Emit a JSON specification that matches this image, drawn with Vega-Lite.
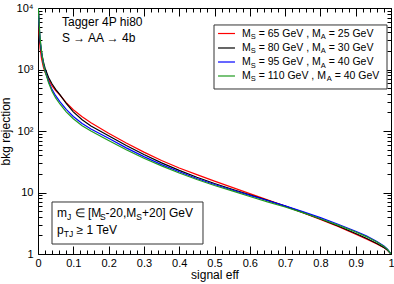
{
  "$schema": "https://vega.github.io/schema/vega-lite/v6.json",
  "width": 353,
  "height": 246,
  "autosize": {"type": "none"},
  "padding": {"left": 38, "top": 8, "right": 3, "bottom": 30},
  "background": "white",
  "config": {
    "view": {"stroke": "black", "strokeWidth": 1},
    "axis": {"grid": false, "domain": false, "labelFont": "Liberation Sans", "titleFont": "Liberation Sans", "labelFontSize": 11, "titleFontSize": 12, "titleFontWeight": "normal", "labelColor": "black", "titleColor": "black", "tickColor": "black", "tickWidth": 1},
    "text": {"font": "Liberation Sans", "color": "black"}
  },
  "datasets": {
    "curves": [
      {"m":"a","e":0.001,"r":9500},{"m":"a","e":0.003,"r":4000},{"m":"a","e":0.006,"r":2200},{"m":"a","e":0.01,"r":1500},{"m":"a","e":0.015,"r":1100},{"m":"a","e":0.02,"r":900},{"m":"a","e":0.03,"r":680},{"m":"a","e":0.04,"r":540},{"m":"a","e":0.05,"r":455},{"m":"a","e":0.062,"r":385},{"m":"a","e":0.08,"r":290},{"m":"a","e":0.1,"r":222},{"m":"a","e":0.125,"r":170},{"m":"a","e":0.15,"r":136},{"m":"a","e":0.2,"r":92},{"m":"a","e":0.25,"r":63.7},{"m":"a","e":0.3,"r":45.4},{"m":"a","e":0.35,"r":33.2},{"m":"a","e":0.4,"r":25},{"m":"a","e":0.45,"r":19.5},{"m":"a","e":0.5,"r":15.3},{"m":"a","e":0.55,"r":12.1},{"m":"a","e":0.6,"r":9.6},{"m":"a","e":0.65,"r":7.6},{"m":"a","e":0.7,"r":6.0},{"m":"a","e":0.75,"r":4.7},{"m":"a","e":0.8,"r":3.65},{"m":"a","e":0.85,"r":2.8},{"m":"a","e":0.9,"r":2.1},{"m":"a","e":0.93,"r":1.75},{"m":"a","e":0.96,"r":1.45},{"m":"a","e":0.98,"r":1.27},{"m":"a","e":0.99,"r":1.15},{"m":"a","e":1.0,"r":1.0},
      {"m":"b","e":0.001,"r":9800},{"m":"b","e":0.003,"r":5000},{"m":"b","e":0.006,"r":2800},{"m":"b","e":0.01,"r":1900},{"m":"b","e":0.015,"r":1350},{"m":"b","e":0.02,"r":1050},{"m":"b","e":0.03,"r":740},{"m":"b","e":0.04,"r":580},{"m":"b","e":0.05,"r":475},{"m":"b","e":0.062,"r":390},{"m":"b","e":0.08,"r":280},{"m":"b","e":0.1,"r":205},{"m":"b","e":0.125,"r":152},{"m":"b","e":0.15,"r":121},{"m":"b","e":0.2,"r":84},{"m":"b","e":0.25,"r":58},{"m":"b","e":0.3,"r":41.4},{"m":"b","e":0.35,"r":30.3},{"m":"b","e":0.4,"r":22.9},{"m":"b","e":0.45,"r":17.7},{"m":"b","e":0.5,"r":14.0},{"m":"b","e":0.55,"r":11.3},{"m":"b","e":0.6,"r":9.2},{"m":"b","e":0.65,"r":7.45},{"m":"b","e":0.7,"r":6.0},{"m":"b","e":0.75,"r":4.75},{"m":"b","e":0.8,"r":3.7},{"m":"b","e":0.85,"r":2.85},{"m":"b","e":0.9,"r":2.15},{"m":"b","e":0.93,"r":1.8},{"m":"b","e":0.96,"r":1.48},{"m":"b","e":0.98,"r":1.28},{"m":"b","e":0.99,"r":1.16},{"m":"b","e":1.0,"r":1.0},
      {"m":"c","e":0.001,"r":9900},{"m":"c","e":0.003,"r":5500},{"m":"c","e":0.006,"r":3000},{"m":"c","e":0.01,"r":1900},{"m":"c","e":0.015,"r":1250},{"m":"c","e":0.02,"r":950},{"m":"c","e":0.03,"r":640},{"m":"c","e":0.04,"r":470},{"m":"c","e":0.05,"r":375},{"m":"c","e":0.062,"r":300},{"m":"c","e":0.08,"r":225},{"m":"c","e":0.1,"r":172},{"m":"c","e":0.125,"r":132},{"m":"c","e":0.15,"r":108},{"m":"c","e":0.2,"r":76},{"m":"c","e":0.25,"r":53.2},{"m":"c","e":0.3,"r":38.3},{"m":"c","e":0.35,"r":28.4},{"m":"c","e":0.4,"r":21.7},{"m":"c","e":0.45,"r":16.9},{"m":"c","e":0.5,"r":13.5},{"m":"c","e":0.55,"r":11.0},{"m":"c","e":0.6,"r":9.0},{"m":"c","e":0.65,"r":7.4},{"m":"c","e":0.7,"r":6.05},{"m":"c","e":0.75,"r":4.9},{"m":"c","e":0.8,"r":3.9},{"m":"c","e":0.85,"r":3.05},{"m":"c","e":0.9,"r":2.35},{"m":"c","e":0.93,"r":1.97},{"m":"c","e":0.96,"r":1.6},{"m":"c","e":0.98,"r":1.35},{"m":"c","e":0.99,"r":1.2},{"m":"c","e":1.0,"r":1.0},
      {"m":"d","e":0.001,"r":9900},{"m":"d","e":0.003,"r":6000},{"m":"d","e":0.006,"r":3200},{"m":"d","e":0.01,"r":2000},{"m":"d","e":0.015,"r":1250},{"m":"d","e":0.02,"r":930},{"m":"d","e":0.03,"r":610},{"m":"d","e":0.04,"r":440},{"m":"d","e":0.05,"r":345},{"m":"d","e":0.062,"r":275},{"m":"d","e":0.08,"r":205},{"m":"d","e":0.1,"r":158},{"m":"d","e":0.125,"r":122},{"m":"d","e":0.15,"r":100},{"m":"d","e":0.2,"r":70},{"m":"d","e":0.25,"r":49.5},{"m":"d","e":0.3,"r":36.1},{"m":"d","e":0.35,"r":27.1},{"m":"d","e":0.4,"r":20.8},{"m":"d","e":0.45,"r":16.3},{"m":"d","e":0.5,"r":13.0},{"m":"d","e":0.55,"r":10.6},{"m":"d","e":0.6,"r":8.6},{"m":"d","e":0.65,"r":7.05},{"m":"d","e":0.7,"r":5.8},{"m":"d","e":0.75,"r":4.7},{"m":"d","e":0.8,"r":3.75},{"m":"d","e":0.85,"r":2.95},{"m":"d","e":0.9,"r":2.28},{"m":"d","e":0.93,"r":1.92},{"m":"d","e":0.96,"r":1.57},{"m":"d","e":0.98,"r":1.33},{"m":"d","e":0.99,"r":1.19},{"m":"d","e":1.0,"r":1.0}
    ],
    "boxes": [
      {"x":0.4986,"x2":0.9887,"y":5295,"y2":482},
      {"x":0.0397,"x2":0.4674,"y":7.01,"y2":1.454}
    ],
    "legend": [
      {"m":"a","x":0.51,"x2":0.558,"y":3848},
      {"m":"b","x":0.51,"x2":0.558,"y":2237},
      {"m":"c","x":0.51,"x2":0.558,"y":1324},
      {"m":"d","x":0.51,"x2":0.558,"y":784}
    ],
    "texts": [
      {"t":"Tagger 4P hi80","x":0.068,"y":5920,"k":"A"},
      {"t":"S → AA → 4b","x":0.068,"y":3251,"k":"A"},
      {"t":"m","x":0.0538,"y":4.64,"k":"A"},
      {"t":"J","x":0.0822,"y":4.64,"k":"B"},
      {"t":"∈ [M","x":0.1037,"y":4.64,"k":"A"},
      {"t":"S","x":0.1754,"y":4.64,"k":"B"},
      {"t":"-20,M","x":0.1915,"y":4.64,"k":"A"},
      {"t":"S","x":0.2785,"y":4.64,"k":"B"},
      {"t":"+20] GeV","x":0.2946,"y":4.64,"k":"A"},
      {"t":"p","x":0.0538,"y":2.455,"k":"A"},
      {"t":"TJ","x":0.0728,"y":2.455,"k":"B"},
      {"t":"≥ 1 TeV","x":0.1091,"y":2.455,"k":"A"},
      {"t":"M","x":0.5779,"y":3848,"k":"L"},
      {"t":"S","x":0.6027,"y":3848,"k":"M"},
      {"t":"= 65 GeV , M","x":0.6252,"y":3848,"k":"L"},
      {"t":"A","x":0.8011,"y":3848,"k":"M"},
      {"t":"= 25 GeV","x":0.8238,"y":3848,"k":"L"},
      {"t":"M","x":0.5779,"y":2237,"k":"L"},
      {"t":"S","x":0.6027,"y":2237,"k":"M"},
      {"t":"= 80 GeV , M","x":0.6252,"y":2237,"k":"L"},
      {"t":"A","x":0.8011,"y":2237,"k":"M"},
      {"t":"= 30 GeV","x":0.8238,"y":2237,"k":"L"},
      {"t":"M","x":0.5779,"y":1324,"k":"L"},
      {"t":"S","x":0.6027,"y":1324,"k":"M"},
      {"t":"= 95 GeV , M","x":0.6252,"y":1324,"k":"L"},
      {"t":"A","x":0.8011,"y":1324,"k":"M"},
      {"t":"= 40 GeV","x":0.8238,"y":1324,"k":"L"},
      {"t":"M","x":0.5779,"y":784,"k":"L"},
      {"t":"S","x":0.6027,"y":784,"k":"M"},
      {"t":"= 110 GeV , M","x":0.6252,"y":784,"k":"L"},
      {"t":"A","x":0.8178,"y":784,"k":"M"},
      {"t":"= 40 GeV","x":0.8405,"y":784,"k":"L"}
    ]
  },
  "resolve": {"axis": {"x": "independent", "y": "independent"}},
  "layer": [
    {
      "data": {"name": "curves"},
      "mark": {"type": "line", "strokeWidth": 1.2, "clip": true},
      "encoding": {
        "x": {"field": "e", "type": "quantitative", "scale": {"domain": [0, 1], "nice": false},
              "axis": {"orient": "bottom", "values": [0,0.1,0.2,0.3,0.4,0.5,0.6,0.7,0.8,0.9,1], "tickSize": -8, "labelPadding": 11, "labelFlush": false, "title": "signal eff", "titlePadding": 1, "labelExpr": "datum.value == 0 ? '0' : datum.value == 1 ? '1' : format(datum.value, '.1f')"}},
        "y": {"field": "r", "type": "quantitative", "scale": {"type": "log", "domain": [1, 10000], "nice": false},
              "axis": {"orient": "left", "values": [1,10,100,1000,10000], "tickSize": -8, "labelPadding": 13, "labelFlush": false, "title": "bkg rejection", "titlePadding": 4, "labelExpr": "datum.value == 1 ? '1' : datum.value == 10 ? '10' : datum.value == 100 ? '10²' : datum.value == 1000 ? '10³' : '10⁴'"}},
        "color": {"field": "m", "type": "nominal", "scale": {"domain": ["a","b","c","d"], "range": ["#ff0000","#000000","#0000ff","#1f9a1f"]}, "legend": null}
      }
    },
    {
      "data": {"name": "curves"},
      "mark": {"type": "line", "opacity": 0},
      "encoding": {
        "x": {"field": "e", "type": "quantitative", "axis": {"orient": "bottom", "values": [0.02,0.04,0.06,0.08,0.12,0.14,0.16,0.18,0.22,0.24,0.26,0.28,0.32,0.34,0.36,0.38,0.42,0.44,0.46,0.48,0.52,0.54,0.56,0.58,0.62,0.64,0.66,0.68,0.72,0.74,0.76,0.78,0.82,0.84,0.86,0.88,0.92,0.94,0.96,0.98], "tickSize": -4, "labels": false, "title": null}},
        "y": {"field": "r", "type": "quantitative", "axis": {"orient": "left", "values": [2,3,4,5,6,7,8,9,20,30,40,50,60,70,80,90,200,300,400,500,600,700,800,900,2000,3000,4000,5000,6000,7000,8000,9000], "tickSize": -4, "labels": false, "title": null}}
      }
    },
    {
      "data": {"name": "curves"},
      "mark": {"type": "line", "opacity": 0},
      "encoding": {
        "x": {"field": "e", "type": "quantitative", "axis": {"orient": "top", "values": [0,0.1,0.2,0.3,0.4,0.5,0.6,0.7,0.8,0.9,1], "tickSize": -8, "labels": false, "title": null}},
        "y": {"field": "r", "type": "quantitative", "axis": {"orient": "right", "values": [1,10,100,1000,10000], "tickSize": -8, "labels": false, "title": null}}
      }
    },
    {
      "data": {"name": "curves"},
      "mark": {"type": "line", "opacity": 0},
      "encoding": {
        "x": {"field": "e", "type": "quantitative", "axis": {"orient": "top", "values": [0.02,0.04,0.06,0.08,0.12,0.14,0.16,0.18,0.22,0.24,0.26,0.28,0.32,0.34,0.36,0.38,0.42,0.44,0.46,0.48,0.52,0.54,0.56,0.58,0.62,0.64,0.66,0.68,0.72,0.74,0.76,0.78,0.82,0.84,0.86,0.88,0.92,0.94,0.96,0.98], "tickSize": -4, "labels": false, "title": null}},
        "y": {"field": "r", "type": "quantitative", "axis": {"orient": "right", "values": [2,3,4,5,6,7,8,9,20,30,40,50,60,70,80,90,200,300,400,500,600,700,800,900,2000,3000,4000,5000,6000,7000,8000,9000], "tickSize": -4, "labels": false, "title": null}}
      }
    },
    {
      "data": {"name": "boxes"},
      "mark": {"type": "rect", "fill": "white", "stroke": "#333333", "strokeWidth": 1},
      "encoding": {
        "x": {"field": "x", "type": "quantitative", "axis": null},
        "x2": {"field": "x2"},
        "y": {"field": "y", "type": "quantitative", "axis": null},
        "y2": {"field": "y2"}
      }
    },
    {
      "data": {"name": "legend"},
      "mark": {"type": "rule", "strokeWidth": 1.2},
      "encoding": {
        "x": {"field": "x", "type": "quantitative", "axis": null},
        "x2": {"field": "x2"},
        "y": {"field": "y", "type": "quantitative", "axis": null},
        "color": {"field": "m", "type": "nominal", "legend": null}
      }
    },
    {
      "data": {"name": "texts"},
      "transform": [{"filter": "datum.k == 'A'"}],
      "mark": {"type": "text", "align": "left", "baseline": "middle", "fontSize": 12},
      "encoding": {
        "x": {"field": "x", "type": "quantitative", "axis": null},
        "y": {"field": "y", "type": "quantitative", "axis": null},
        "text": {"field": "t"}
      }
    },
    {
      "data": {"name": "texts"},
      "transform": [{"filter": "datum.k == 'B'"}],
      "mark": {"type": "text", "align": "left", "baseline": "middle", "fontSize": 8.5, "dy": 4},
      "encoding": {
        "x": {"field": "x", "type": "quantitative", "axis": null},
        "y": {"field": "y", "type": "quantitative", "axis": null},
        "text": {"field": "t"}
      }
    },
    {
      "data": {"name": "texts"},
      "transform": [{"filter": "datum.k == 'L'"}],
      "mark": {"type": "text", "align": "left", "baseline": "middle", "fontSize": 10.5},
      "encoding": {
        "x": {"field": "x", "type": "quantitative", "axis": null},
        "y": {"field": "y", "type": "quantitative", "axis": null},
        "text": {"field": "t"}
      }
    },
    {
      "data": {"name": "texts"},
      "transform": [{"filter": "datum.k == 'M'"}],
      "mark": {"type": "text", "align": "left", "baseline": "middle", "fontSize": 7.5, "dy": 3.5},
      "encoding": {
        "x": {"field": "x", "type": "quantitative", "axis": null},
        "y": {"field": "y", "type": "quantitative", "axis": null},
        "text": {"field": "t"}
      }
    }
  ]
}
